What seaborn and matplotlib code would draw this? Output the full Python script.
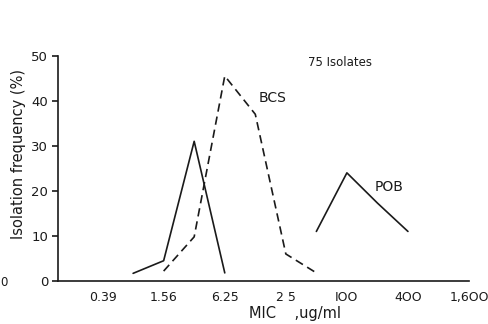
import matplotlib
matplotlib.use("Agg")
import matplotlib.pyplot as plt
import seaborn as sns
import pandas as pd

# Data
tick_values = [0.39, 1.56, 6.25, 25, 100, 400, 1600]
tick_labels = ["0.39", "1.56", "6.25", "2 5", "IOO", "4OO", "1,6OO"]

first_mic = [0.78, 1.56, 3.12, 6.25]
first_freq = [1.7, 4.5, 31.0, 1.8]

bcs_mic = [1.56, 3.12, 6.25, 12.5, 25, 50]
bcs_freq = [2.2, 9.8, 45.5, 37.0, 6.0, 1.8]

pob_mic = [50, 100, 200, 400]
pob_freq = [11.0, 24.0, 17.3, 11.0]

sns.set_theme(style="white")
plt.rcParams['font.family'] = ['DejaVu Sans']

fig = plt.figure(figsize=(4.89, 3.24), dpi=100)
ax = fig.add_axes([58/489, 1-281/324, (469-58)/489, (281-55.7)/324])

df1 = pd.DataFrame({"mic": first_mic, "freq": first_freq})
df2 = pd.DataFrame({"mic": bcs_mic, "freq": bcs_freq})
df3 = pd.DataFrame({"mic": pob_mic, "freq": pob_freq})

ink = "#1a1a1a"
sns.lineplot(data=df1, x="mic", y="freq", ax=ax, color=ink, linewidth=1.2)
sns.lineplot(data=df2, x="mic", y="freq", ax=ax, color=ink, linewidth=1.2,
             linestyle=(0, (5, 3)))
sns.lineplot(data=df3, x="mic", y="freq", ax=ax, color=ink, linewidth=1.2)

ax.set_xscale("log", base=2)
ax.set_xlim(0.1417, 1600)
ax.set_ylim(0, 50)
ax.set_xticks(tick_values)
ax.set_xticklabels(tick_labels)
ax.minorticks_off()
ax.set_yticks([0, 10, 20, 30, 40, 50])

for s in ["top", "right"]:
    ax.spines[s].set_visible(False)
for s in ["left", "bottom"]:
    ax.spines[s].set_color(ink)
    ax.spines[s].set_linewidth(1.2)

ax.tick_params(axis="x", direction="in", length=5, width=1.2, colors=ink,
               labelsize=9, pad=7)
ax.tick_params(axis="y", direction="out", length=4, width=1.2, colors=ink,
               labelsize=9.5, left=True, pad=3)

ax.set_xlabel("MIC    ,ug/ml", fontsize=10.5, color=ink, labelpad=1)
ax.set_ylabel("Isolation frequency (%)", fontsize=10.5, color=ink, labelpad=5)
ax.xaxis.set_label_coords((295-58)/(469-58), -0.11)
ax.yaxis.set_label_coords(-(58-26)/(469-58), (281-154)/(281-55.7))

ax.text(340/489, 1-62.7/324, "75 Isolates", transform=fig.transFigure,
        fontsize=8.5, ha="center", va="center", color=ink)
ax.text(272.7/489, 1-98/324, "BCS", transform=fig.transFigure,
        fontsize=10, ha="center", va="center", color=ink)
ax.text(389/489, 1-187/324, "POB", transform=fig.transFigure,
        fontsize=10, ha="center", va="center", color=ink)
fig.text(0.5/489, 1-283/324, "0", fontsize=8.5, ha="left", va="center", color=ink)

fig.savefig("out.png", dpi=100, facecolor="white")
